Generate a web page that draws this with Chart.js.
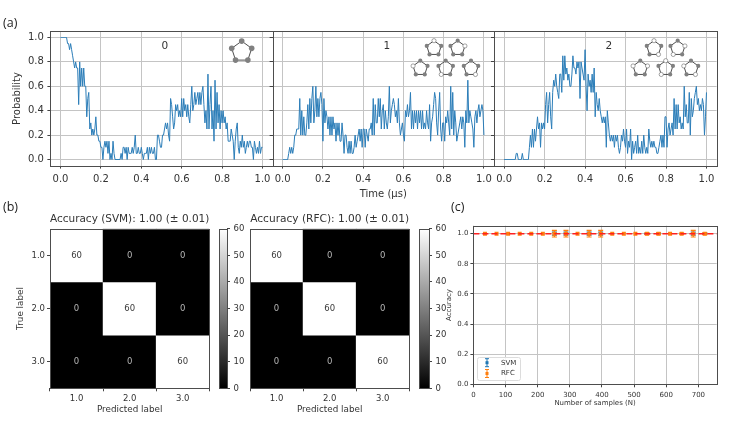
<!DOCTYPE html>
<html>
<head>
<meta charset="utf-8">
<script src="https://cdn.jsdelivr.net/npm/chart.js@4"></script>
<style>
html,body{margin:0;padding:0;background:#fff;width:747px;height:421px;overflow:hidden}
#page{position:relative;width:747px;height:421px;filter:blur(.5px)}
canvas{position:absolute;left:0;top:0}
.tag{position:absolute;font:12.5px "Open Sans",sans-serif;color:#222;line-height:16px}
</style>
</head>
<body>
<div id="page">
<div class="tag" style="left:3px;top:15px">(a)</div>
<div class="tag" style="left:3px;top:199px">(b)</div>
<div class="tag" style="left:451px;top:199px">(c)</div>
</div>
<script>
// ---------- data ----------
const timeStep = 0.005;
const prob0 = [
1,1,1,1,1,1,1,.95,.95,.9,
.95,.9,.85,.8,.75,.8,.75,.75,.45,.8,
.6,.75,.6,.75,.6,.6,.35,.5,.55,.25,
.3,.2,.25,.2,.25,.35,.2,.2,.15,.15,
.1,.1,0,.1,.15,.1,.15,.05,.15,0,
.05,0,.15,.05,0,0,0,0,0,0,
.05,0,.1,.1,.05,.1,0,.1,.05,.05,
.05,.1,.05,.1,.2,.05,.05,.1,.05,.05,
.1,.05,0,.05,.05,.05,.1,0,.1,.05,
.1,.05,.05,.1,0,0,.2,.2,.15,.1,
.1,.2,.2,.25,.3,.25,.3,.2,.15,.5,
.45,.35,.25,.3,.45,.4,.45,.35,.4,.35,
.5,.35,.5,.4,.45,.35,.45,.35,.3,.45,
.6,.4,.45,.55,.45,.5,.55,.45,.55,.45,
.55,.6,.45,.3,.4,.25,.7,.25,.45,.6,
.25,.4,.15,.65,.25,.55,.3,.45,.25,.4,
.3,.4,.3,.35,.25,.3,.15,.15,.15,.25,
.2,.15,0,.15,.25,.3,.1,.05,.15,.1,
.2,.1,.15,.05,.1,.15,.1,.15,.15,.1,
.1,0,.15,.1,.05,.1,.05,.15,.05,.1,
.1];
const prob1 = [
0,0,0,0,0,0,.05,.1,.05,.1,
.05,.1,.2,.2,.25,.25,.25,.5,.2,.4,
.2,.35,.2,.2,.3,.45,.25,.5,.3,.5,
.6,.3,.4,.6,.35,.5,.35,.5,.55,.45,
.15,.5,.3,.4,.35,.25,.35,.2,.35,.2,
.35,.25,.3,.15,.3,.2,.3,.15,.15,.3,
.2,.05,.2,.2,.1,.05,.15,.05,.15,.05,
.05,.1,.2,.1,.15,.2,.25,.15,.25,.1,
.25,.25,.1,.25,.2,.15,.25,.25,.3,.2,
.5,.2,.45,.3,.3,.5,.35,.5,.25,.4,
.45,.25,.4,.3,.25,.35,.6,.3,.4,.45,
.5,.45,.35,.4,.3,.5,.3,.2,.25,.3,
.2,.15,.4,.35,.45,.35,.4,.55,.25,.4,
.25,.4,.3,.4,.25,.4,.3,.4,.25,.4,
.25,.3,.25,.4,.3,.25,.45,.15,.3,.35,
.45,.55,.5,.3,.2,.4,.55,.25,.15,.3,
.3,.15,.35,.3,.4,.3,.2,.6,.25,.55,
.2,.4,.3,.15,.2,.25,.3,.35,.25,.35,
.3,.1,.4,.3,.65,.3,.4,.35,.3,.25,
.1,.35,.4,.3,.4,.45,.35,.4,.45,.4,
.2];
const prob2 = [
0,0,0,0,0,0,0,0,0,0,
0,0,.05,.05,0,0,0,0,.05,0,
0,0,0,0,0,.1,.2,.1,.25,.1,
.25,.15,.25,.35,.25,.3,.1,.3,.25,.3,
.25,.45,.55,.3,.45,.55,.35,.25,.55,.65,
.6,.7,.6,.55,.5,.7,.7,.55,.85,.65,
.85,.7,.75,.65,.7,.6,.6,.7,.85,.75,
.75,.7,.8,.75,.8,.5,.8,.75,.7,.65,
.9,.6,.4,.7,.6,.65,.55,.7,.55,.75,
.35,.55,.45,.4,.5,.4,.35,.3,.35,.3,
.35,.1,.4,.3,.2,.15,.2,.15,.2,.1,
.2,.15,.2,.1,.05,.1,.2,.15,.25,.15,
.1,.25,.05,.15,.1,.25,0,.15,.05,.1,
.15,.05,.2,.05,.1,.05,.15,.05,.2,.1,
.05,.1,.05,.25,.15,.1,.15,.1,.15,.1,
.1,.05,.05,.1,.15,.2,.1,.2,.1,.35,
.35,.1,.25,.3,.2,.25,.3,.2,.5,.25,
.45,.25,.45,.3,.35,.25,.3,.25,.6,.35,
.45,.3,.3,.55,.2,.5,.35,.4,.5,.55,
.6,.45,.5,.4,.45,.4,.5,.45,.2,.35,
.55];
const probTicks = [0,.2,.4,.6,.8,1];
const stateLabels = ['0','1','2'];

const cmLabels = ['1.0','2.0','3.0'];
const cmRowPositions = [1,2,3];
const svmRows = [[60,0,0],[0,60,0],[0,0,60]];
const rfcRows = [[60,0,0],[0,60,0],[0,0,60]];
const colorbarTicks = [0,10,20,30,40,50,60];
const colorbarRange = [0,60];

const sampleCounts = [36,72,108,144,180,216,252,288,324,360,396,432,468,504,540,576,612,648,684,720];
const svmMean = [1,1,1,1,1,1,1,1,1,1,1,1,1,1,1,1,1,1,1,1];
const rfcMean = [1,1,1,1,1,1,1,1,1,1,1,1,1,1,1,1,1,1,1,1];
const svmErr = [0,0,0,0,0,0,.01,.01,0,.01,.01,0,0,0,.004,.004,0,0,.01,.004];
const rfcErr = [0,0,0,0,0,0,.022,.022,0,.022,.022,0,0,0,.006,.006,0,.004,.022,.006];
const referenceLine = [1,1];
const referenceX = [0,757];
const accTicksX = [0,100,200,300,400,500,600,700];
const accTicksY = [0,.2,.4,.6,.8,1];

// ---------- helpers ----------
const FONT = '"DejaVu Sans"';
const TXT = '#333';
const W = 747, H = 421;
Chart.defaults.font.family = FONT;
Chart.defaults.color = TXT;
Chart.defaults.animation = false;

function addCanvas(){
  const c = document.createElement('canvas');
  c.width = W; c.height = H; c.style.width = W+'px'; c.style.height = H+'px';
  document.getElementById('page').appendChild(c);
  return c.getContext('2d');
}
const frame = {id:'frame', afterDraw(ch){
  const a = ch.chartArea, c = ch.ctx;
  const l = Math.round(a.left)+.5, r = Math.round(a.right)+.5, t = Math.round(a.top)+.5, b = Math.round(a.bottom)+.5;
  c.save(); c.strokeStyle = '#4d4d4d'; c.lineWidth = 1;
  c.strokeRect(l, t, r-l, b-t);
  c.restore();
}};
function fixedTicks(vals){ return s => { s.ticks = vals.map(v => ({value:v})); }; }
function widthFit(w){ return s => { s.width = w; }; }
function heightFit(h){ return s => { s.height = h; }; }
function grid(on, tick){
  return {display:true, drawOnChartArea:on, color:'#c4c4c4', lineWidth:1, tickColor:'#444', tickLength:tick, drawTicks:true};
}

// ---------- pentagon icons ----------
function pentagon(c, cx, cy, r, d, hollow){
  const pts = [];
  for(let i=0;i<5;i++){ const a = -Math.PI/2 + i*2*Math.PI/5; pts.push([cx+r*Math.cos(a), cy+r*Math.sin(a)]); }
  c.beginPath(); pts.forEach((p,i)=> i? c.lineTo(p[0],p[1]) : c.moveTo(p[0],p[1])); c.closePath();
  c.strokeStyle='#222'; c.lineWidth=.8; c.stroke();
  pts.forEach((p,i)=>{
    c.beginPath(); c.arc(p[0],p[1], d, 0, 2*Math.PI);
    if(hollow.includes(i)){ c.fillStyle='#fff'; c.fill(); c.strokeStyle='#666'; c.lineWidth=.6; c.stroke(); }
    else { c.fillStyle='#808080'; c.fill(); }
  });
}
const iconsByPanel = [
  [[241.7,51.6,10.5,2.8,[]]],
  [[434,48.3,7.6,2.1,[0]],[457.7,48.3,7.6,2.1,[1]],[420.3,68.3,7.6,2.1,[4]],[445.7,68.3,7.6,2.1,[3]],[471,68.3,7.6,2.1,[2]]],
  [[654,48.3,7.6,2.1,[0,2]],[677.7,48.3,7.6,2.1,[1,3]],[640.3,68.3,7.6,2.1,[4,1]],[665.7,68.3,7.6,2.1,[0,3]],[691,68.3,7.6,2.1,[4,2]]]
];

// ---------- probability panels ----------
function probPanel(idx, values, left, right, showY, showX){
  const bottom = 165.6, top = 31.4;
  const labelPlugin = {id:'state'+idx, afterDatasetsDraw(ch){
    const c = ch.ctx;
    c.save(); c.fillStyle = TXT; c.font = '10.5px '+FONT; c.textAlign='center'; c.textBaseline='middle';
    c.fillText(stateLabels[idx], ch.scales.x.getPixelForValue(.517), ch.scales.y.getPixelForValue(.925));
    iconsByPanel[idx].forEach(d => pentagon(c, d[0], d[1], d[2], d[3], d[4]));
    c.restore();
  }};
  new Chart(addCanvas(), {
    type:'line',
    data:{datasets:[{data:values.map((y,i)=>({x:i*timeStep,y})), borderColor:'#2b7db8', borderWidth:1, pointRadius:0, tension:0, fill:false}]},
    options:{
      responsive:false, events:[],
      layout:{padding:{left:0, top:top, right:W-right, bottom:0}},
      plugins:{legend:{display:false}, tooltip:{enabled:false}},
      scales:{
        x:{type:'linear', min:-.05, max:1.05, afterBuildTicks:fixedTicks(probTicks), afterFit:heightFit(H-bottom),
           grid:grid(true,3), border:{display:false},
           ticks:{font:{size:10}, color:TXT, padding:5, maxRotation:0, autoSkip:false, callback:v=>v.toFixed(1)},
           title:{display:showX, text:'Time (\u03BCs)', font:{size:10}, color:TXT, padding:{top:0,bottom:220.6}}},
        y:{type:'linear', min:-.05, max:1.05, afterBuildTicks:fixedTicks(probTicks), afterFit:widthFit(left),
           grid:grid(true,3), border:{display:false},
           ticks:{font:{size:10}, color:TXT, padding:3.5, callback:v=> showY? v.toFixed(1):''},
           title:{display:showY, text:'Probability', font:{size:10}, color:TXT, padding:{top:11,bottom:0}}}
      }
    },
    plugins:[frame,labelPlugin]
  });
}
probPanel(0, prob0, 50.4, 272.6, true, false);
probPanel(1, prob1, 272.6, 494, false, true);
probPanel(2, prob2, 494, 716.6, false, false);

// ---------- confusion matrices ----------
const shade = v => { const g = Math.round(255*v/60); return `rgb(${g},${g},${g})`; };
function matrixPanel(title, rows, left, right, showY){
  const top = 228.7, bottom = 388.3;
  const cellText = {id:'cellText', afterDatasetsDraw(ch){
    const c = ch.ctx;
    c.save(); c.font='8.5px '+FONT; c.textAlign='center'; c.textBaseline='middle';
    rows.forEach((row,r)=> row.forEach((v,i)=>{
      c.fillStyle = v>30 ? '#3a3a3a' : '#b5b5b5';
      c.fillText(String(v), ch.scales.x.getPixelForValue(i), ch.scales.y.getPixelForValue(cmRowPositions[r]));
    }));
    c.restore();
  }};
  new Chart(addCanvas(), {
    type:'bar',
    data:{labels:cmLabels, datasets:rows.map((row,r)=>({
      data:row.map(()=>[cmRowPositions[r]-.5, cmRowPositions[r]+.5]),
      backgroundColor:row.map(shade), borderWidth:0, barPercentage:1, categoryPercentage:1, grouped:false
    }))},
    options:{
      responsive:false, events:[],
      layout:{padding:{left:0, top:top-15.7, right:W-right, bottom:0}},
      plugins:{legend:{display:false}, tooltip:{enabled:false},
        title:{display:true, text:title, fullSize:false, font:{size:10.6,weight:'normal'}, color:'#333', padding:{top:0,bottom:3}}},
      scales:{
        x:{type:'category', afterFit:heightFit(H-bottom), grid:grid(false,3), border:{display:false},
           ticks:{font:{size:8.5}, color:TXT, padding:2, maxRotation:0},
           title:{display:true, text:'Predicted label', font:{size:8.8}, color:TXT, padding:{top:0,bottom:6}}},
        y:{type:'linear', reverse:true, min:.5, max:3.5, afterBuildTicks:fixedTicks(cmRowPositions), afterFit:widthFit(left),
           grid:grid(false,showY?3:0), border:{display:false},
           ticks:{font:{size:8.5}, color:TXT, padding:2, callback:v=> showY? cmLabels[cmRowPositions.indexOf(v)]:''},
           title:{display:showY, text:'True label', font:{size:8.8}, color:TXT, padding:{top:15.5,bottom:0}}}
      }
    },
    plugins:[frame,cellText]
  });
}
function colorbar(left, right){
  const top = 228.7, bottom = 388.3;
  new Chart(addCanvas(), {
    type:'bar',
    data:{labels:[''], datasets:[{data:[colorbarRange], barPercentage:1, categoryPercentage:1, borderWidth:0,
      backgroundColor:(ctx)=>{
        const a = ctx.chart.chartArea; if(!a) return '#888';
        const g = ctx.chart.ctx.createLinearGradient(0,a.bottom,0,a.top);
        g.addColorStop(0,'#000'); g.addColorStop(1,'#fff'); return g;
      }}]},
    options:{
      responsive:false, events:[],
      layout:{padding:{left:left, top:top, right:0, bottom:H-bottom}},
      plugins:{legend:{display:false}, tooltip:{enabled:false}},
      scales:{
        x:{display:false},
        y:{type:'linear', position:'right', min:0, max:60, afterBuildTicks:fixedTicks(colorbarTicks), afterFit:widthFit(W-right),
           grid:grid(false,3), border:{display:false},
           ticks:{font:{size:8.5}, color:TXT, padding:3.5}}
      }
    },
    plugins:[frame]
  });
}
matrixPanel('Accuracy (SVM): 1.00 (\u00B1 0.01)', svmRows, 50, 209.3, true);
colorbar(219, 227);
matrixPanel('Accuracy (RFC): 1.00 (\u00B1 0.01)', rfcRows, 250, 409.3, false);
colorbar(419, 429);

// ---------- accuracy vs samples ----------
const BLUE='#1f77b4', ORANGE='#ff7f0e';
const errorBars = {id:'errorBars', beforeDatasetsDraw(ch){
  const c = ch.ctx, X = ch.scales.x, Y = ch.scales.y;
  [[svmMean,svmErr,BLUE],[rfcMean,rfcErr,ORANGE]].forEach(([m,e,col])=>{
    c.save(); c.strokeStyle = col; c.lineWidth = 1.2;
    sampleCounts.forEach((n,i)=>{
      if(!e[i]) return;
      const x = X.getPixelForValue(n), y1 = Y.getPixelForValue(m[i]-e[i]), y2 = Y.getPixelForValue(m[i]+e[i]);
      c.beginPath(); c.moveTo(x,y1); c.lineTo(x,y2);
      c.moveTo(x-2.5,y1); c.lineTo(x+2.5,y1); c.moveTo(x-2.5,y2); c.lineTo(x+2.5,y2); c.stroke();
    });
    c.restore();
  });
}};
const referencePlugin = {id:'referencePlugin', afterDatasetsDraw(ch){
  const c = ch.ctx, X = ch.scales.x, Y = ch.scales.y;
  c.save(); c.strokeStyle='#ff2020'; c.lineWidth=1.6; c.setLineDash([6,3]);
  c.beginPath();
  c.moveTo(X.getPixelForValue(referenceX[0]), Y.getPixelForValue(referenceLine[0]));
  c.lineTo(X.getPixelForValue(referenceX[1]), Y.getPixelForValue(referenceLine[1]));
  c.stroke(); c.restore();
}};
const accLegend = {id:'accLegend', afterDraw(ch){
  const c = ch.ctx, x0 = 477, y0 = 357, w = 43, h = 23;
  c.save();
  c.beginPath(); c.roundRect(x0+.5,y0+.5,w,h,2);
  c.fillStyle='rgba(255,255,255,.85)'; c.fill(); c.strokeStyle='#dcdcdc'; c.lineWidth=1; c.stroke();
  c.font='7px '+FONT; c.textBaseline='middle'; c.textAlign='left';
  [[ch.data.datasets[0].label,BLUE,362.7],[ch.data.datasets[1].label,ORANGE,373.5]].forEach(([t,col,y])=>{
    c.strokeStyle=col; c.fillStyle=col; c.lineWidth=1;
    c.beginPath(); c.moveTo(487,y-4); c.lineTo(487,y+4); c.moveTo(485,y-4); c.lineTo(489,y-4); c.moveTo(485,y+4); c.lineTo(489,y+4); c.stroke();
    c.fillRect(485.5,y-1.5,3,3);
    c.fillStyle=TXT; c.fillText(t,501,y);
  });
  c.restore();
}};
new Chart(addCanvas(), {
  type:'scatter',
  data:{datasets:[
    {label:'SVM', order:2, data:sampleCounts.map((x,i)=>({x,y:svmMean[i]})), backgroundColor:BLUE, borderColor:BLUE, pointStyle:'rect', pointRadius:2, borderWidth:0},
    {label:'RFC', order:1, data:sampleCounts.map((x,i)=>({x,y:rfcMean[i]})), backgroundColor:ORANGE, borderColor:ORANGE, pointStyle:'rect', pointRadius:2.8, borderWidth:0}
  ]},
  options:{
    responsive:false, events:[],
    layout:{padding:{left:0, top:225.7, right:W-716.7, bottom:0}},
    plugins:{legend:{display:false}, tooltip:{enabled:false}},
    scales:{
      x:{type:'linear', min:0, max:757, afterBuildTicks:fixedTicks(accTicksX), afterFit:heightFit(H-384.3),
         grid:grid(true,3), border:{display:false},
         ticks:{font:{size:7}, color:TXT, padding:3.5, maxRotation:0, autoSkip:false},
         title:{display:true, text:'Number of samples (N)', font:{size:7}, color:TXT, padding:{top:0,bottom:14}}},
      y:{type:'linear', min:0, max:1.053, afterBuildTicks:fixedTicks(accTicksY), afterFit:widthFit(473.4),
         grid:grid(true,3), border:{display:false},
         ticks:{font:{size:7}, color:TXT, padding:2, callback:v=>v.toFixed(1)},
         title:{display:true, text:'Accuracy', font:{size:7}, color:TXT, padding:{top:445,bottom:0}}}
    }
  },
  plugins:[frame,errorBars,referencePlugin,accLegend]
});
</script>
</body>
</html>
